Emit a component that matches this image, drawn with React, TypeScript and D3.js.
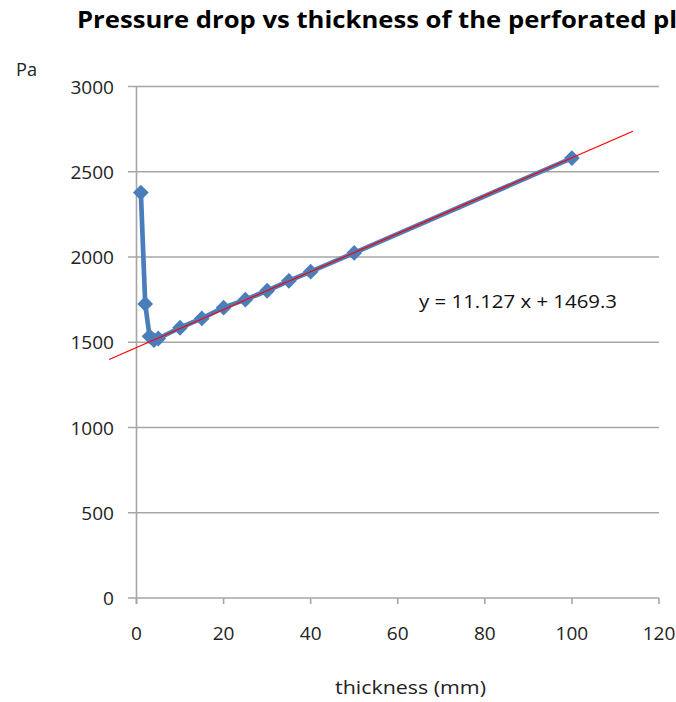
import React from "react";
import * as d3 from "d3";

const thickness = [1, 2, 3, 4, 5, 10, 15, 20, 25, 30, 35, 40, 50, 100];
const pressure = [2378, 1725, 1535, 1512, 1522, 1585, 1640, 1703, 1750, 1802, 1860, 1914, 2024, 2580];
const xTicks = [0, 20, 40, 60, 80, 100, 120];
const yTicks = [0, 500, 1000, 1500, 2000, 2500, 3000];
const trendSlope = 11.127;
const trendIntercept = 1469.3;
const trendRange = [-6.3, 114];
const titleText = "Pressure drop vs thickness of the perforated plate";
const equationText = "y = 11.127 x + 1469.3";
const xTitle = "thickness (mm)";
const yTitle = "Pa";

const W = 676;
const H = 702;
const FONT = "'Open Sans', 'DejaVu Sans', sans-serif";
const DIGIT_W = 10.9;

export default function App() {
  const x = d3.scaleLinear().domain([0, 120]).range([136.5, 659]);
  const y = d3.scaleLinear().domain([0, 3000]).range([598, 86.5]);

  const line = d3
    .line<number>()
    .x((_, i) => x(thickness[i]))
    .y((d) => y(d));

  const trendPts: [number, number][] = trendRange.map((t) => [x(t), y(trendSlope * t + trendIntercept)]);
  const trendPath = d3.line()(trendPts) || "";

  const diamond = d3.symbol(d3.symbolSquare, 125)() || "";

  return (
    <svg
      width={W}
      height={H}
      style={{ position: "absolute", left: 0, top: 0, background: "#fff" }}
      fontFamily={FONT}
    >
      <rect width={W} height={H} fill="#fff" />
      <text
        x={77}
        y={27.5}
        fontSize={23}
        fontWeight="bold"
        fill="#000"
        textLength={642}
        lengthAdjust="spacingAndGlyphs"
      >
        {titleText}
      </text>
      <text x={16} y={76} fontSize={18} fill="#222" textLength={21} lengthAdjust="spacingAndGlyphs">
        {yTitle}
      </text>

      {/* gridlines and y ticks */}
      {yTicks.map((t) => (
        <g key={"gy" + t}>
          <line x1={128} x2={659} y1={y(t)} y2={y(t)} stroke="#a6a6a6" strokeWidth={1.6} />
          <text
            x={114}
            y={y(t) + 7}
            textAnchor="end"
            fontSize={18}
            fill="#222"
            textLength={String(t).length * DIGIT_W}
            lengthAdjust="spacingAndGlyphs"
          >
            {t}
          </text>
        </g>
      ))}
      {/* y axis */}
      <line x1={x(0)} x2={x(0)} y1={y(3000)} y2={y(0) + 6} stroke="#a6a6a6" strokeWidth={1.6} />
      {/* x ticks */}
      {xTicks.map((t) => (
        <g key={"gx" + t}>
          <line x1={x(t)} x2={x(t)} y1={y(0)} y2={y(0) + 6} stroke="#a6a6a6" strokeWidth={1.6} />
          <text
            x={x(t)}
            y={640}
            textAnchor="middle"
            fontSize={18}
            fill="#222"
            textLength={String(t).length * DIGIT_W}
            lengthAdjust="spacingAndGlyphs"
          >
            {t}
          </text>
        </g>
      ))}

      {/* data series */}
      <path d={line(pressure) || ""} fill="none" stroke="#4a7ebb" strokeWidth={4.7} strokeLinejoin="round" />
      {pressure.map((p, i) => (
        <path
          key={"m" + i}
          d={diamond}
          transform={`translate(${x(thickness[i])},${y(p)}) rotate(45)`}
          fill="#4a7ebb"
        />
      ))}

      {/* trendline */}
      <path d={trendPath} fill="none" stroke="#ff0000" strokeWidth={1.2} />

      <text
        x={419}
        y={308}
        fontSize={18}
        fill="#111"
        textLength={198}
        lengthAdjust="spacingAndGlyphs"
      >
        {equationText}
      </text>

      <text
        x={335}
        y={694}
        fontSize={18.5}
        fill="#222"
        textLength={151}
        lengthAdjust="spacingAndGlyphs"
      >
        {xTitle}
      </text>
    </svg>
  );
}
